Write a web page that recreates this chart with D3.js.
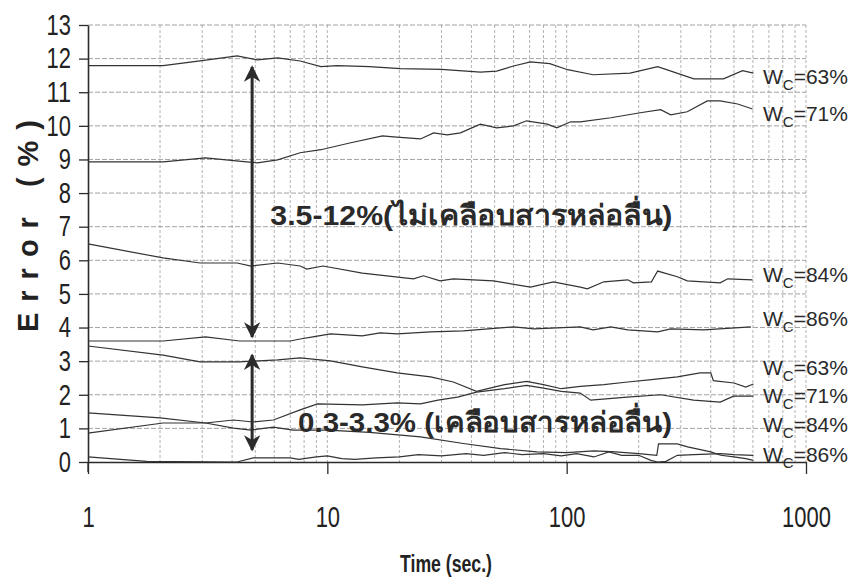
<!DOCTYPE html>
<html>
<head>
<meta charset="utf-8">
<script src="https://cdn.jsdelivr.net/npm/d3@7"></script>
<style>
  body { margin: 0; background: #fff; }
  svg { display: block; }
</style>
</head>
<body>
<svg id="chart" width="851" height="585"></svg>
<script>
// uncoated samples (ไม่เคลือบสารหล่อลื่น), [time s, error %]
const wc63Uncoated = [[1,11.79],[2.06,11.79],[2.94,11.93],[4.2,12.08],[5.1,11.96],[6.2,12.02],[7.7,11.93],[9.4,11.76],[11,11.79],[15,11.76],[20.2,11.7],[30,11.68],[43.6,11.6],[51,11.63],[60,11.78],[70.6,11.9],[85,11.85],[101,11.67],[129,11.52],[184,11.57],[240,11.76],[340,11.4],[452,11.4],[543,11.64],[603,11.57]];
const wc71Uncoated = [[1,8.93],[2.06,8.93],[3.1,9.05],[4.6,8.93],[5.1,8.9],[6.2,8.99],[7.7,9.2],[9.4,9.29],[12.4,9.49],[17,9.7],[18.9,9.67],[24.5,9.61],[27.8,9.79],[31.7,9.73],[36,9.79],[43.6,10.05],[51,9.94],[60,10.0],[68,10.15],[83,10.05],[91,9.94],[104,10.12],[114,10.12],[153,10.24],[203,10.39],[247,10.48],[272,10.33],[319,10.42],[387,10.74],[438,10.74],[518,10.65],[598,10.5]];
const wc84Uncoated = [[1,6.49],[2.06,6.07],[2.94,5.92],[4.2,5.92],[4.8,5.83],[6.2,5.92],[7.7,5.83],[8.2,5.74],[9.6,5.83],[14,5.62],[22.9,5.45],[25.2,5.54],[29.6,5.39],[33.6,5.45],[49.4,5.39],[70.6,5.2],[88,5.36],[114,5.2],[122,5.15],[143,5.36],[180,5.42],[190,5.33],[226,5.36],[240,5.68],[290,5.51],[319,5.39],[438,5.33],[471,5.45],[598,5.42]];
const wc86Uncoated = [[1,3.6],[2.06,3.6],[3.1,3.72],[4.3,3.6],[7,3.6],[7.7,3.66],[8.7,3.72],[10.3,3.81],[14,3.75],[16.6,3.84],[19.6,3.81],[27,3.87],[37,3.9],[60,4.02],[73,3.96],[114,4.02],[129,3.93],[153,4.02],[180,3.93],[240,3.87],[272,3.96],[374,3.93],[588,4.02]];

// coated samples (เคลือบสารหล่อลื่น)
const wc63Coated = [[1,3.45],[2.06,3.18],[2.94,2.98],[4.3,2.98],[6.2,3.04],[7.7,3.1],[10.3,3.01],[14,2.83],[19.6,2.65],[27,2.53],[33.6,2.38],[42,2.1],[55,2.3],[68,2.4],[80,2.3],[95,2.18],[114,2.25],[143,2.3],[180,2.38],[226,2.45],[290,2.53],[361,2.65],[400,2.65],[410,2.42],[500,2.35],[560,2.23],[603,2.32]];
const wc71Coated = [[1,0.86],[2.06,1.16],[3.1,1.16],[4.05,1.25],[4.9,1.19],[5.95,1.25],[7.7,1.55],[9.1,1.73],[14,1.7],[19.6,1.76],[24.5,1.73],[29,1.84],[35,1.93],[42,2.08],[55,2.18],[68,2.28],[80,2.2],[95,2.1],[114,2.05],[126,1.84],[179,1.93],[247,2.0],[339,1.84],[438,1.78],[498,1.96],[603,1.96]];
const wc84Coated = [[1,1.46],[2.0,1.31],[3.1,1.16],[4.05,1.01],[4.8,0.95],[5.95,1.04],[7.2,0.95],[10,0.95],[15,0.88],[24.5,0.75],[37,0.55],[53,0.4],[75,0.3],[100,0.28],[130,0.33],[160,0.3],[200,0.25],[238,0.2],[242,0.54],[290,0.54],[320,0.45],[400,0.3],[440,0.2],[500,0.15],[560,0.1],[603,0.05]];
const wc86Coated = [[1,0.15],[1.76,0.02],[4.2,0.0],[4.9,0.12],[7,0.12],[7.6,0.08],[9,0.15],[10,0.18],[11.5,0.1],[13,0.08],[16,0.12],[20,0.15],[24,0.22],[30,0.18],[38,0.25],[45,0.2],[55,0.28],[65,0.22],[80,0.25],[95,0.18],[110,0.25],[130,0.15],[150,0.3],[170,0.2],[200,0.2],[225,0.05],[240,0.0],[260,0.02],[290,0.2],[340,0.22],[440,0.25],[500,0.22],[603,0.2]];

const seriesList = [wc63Uncoated, wc71Uncoated, wc84Uncoated, wc86Uncoated, wc63Coated, wc71Coated, wc84Coated, wc86Coated];
const seriesNames = ["63%", "71%", "84%", "86%", "63%", "71%", "84%", "86%"];
const labelValues = [11.45, 10.35, 5.55, 4.25, 2.8, 1.95, 1.1, 0.2];

const xTicks = [1, 10, 100, 1000];
const yTicks = d3.range(0, 14);
const rangeArrows = [[4.85, 11.75, 3.72], [4.85, 3.18, 0.36]];
const rangeTexts = [[5.78, 7.26, "3.5-12%(ไม่เคลือบสารหล่อลื่น)"], [7.55, 1.1, "0.3-3.3% (เคลือบสารหล่อลื่น)"]];

const sans = "'Liberation Sans', Arial, sans-serif";
const ink = "#2b2b2b";

const svg = d3.select("#chart");

const xScale = d3.scaleLog().domain([1, 1000]).range([88, 806]);
const yScale = d3.scaleLinear().domain([0, 13]).range([462, 25]);

// grid
const minorTimes = [];
[1, 10, 100].forEach((dec) => {
  for (let k = 2; k <= 10; k++) minorTimes.push(dec * k);
});

svg.append("g")
  .selectAll("line")
  .data(minorTimes)
  .enter()
  .append("line")
  .attr("x1", (d) => xScale(d))
  .attr("x2", (d) => xScale(d))
  .attr("y1", yScale(13))
  .attr("y2", yScale(0))
  .attr("stroke", "#a0a0a0")
  .attr("stroke-width", 0.8)
  .attr("stroke-dasharray", "3,2");

svg.append("g")
  .selectAll("line")
  .data(yTicks.filter((d) => d > 0))
  .enter()
  .append("line")
  .attr("x1", xScale(1))
  .attr("x2", xScale(1000))
  .attr("y1", (d) => yScale(d))
  .attr("y2", (d) => yScale(d))
  .attr("stroke", "#8c8c8c")
  .attr("stroke-width", 0.8)
  .attr("stroke-dasharray", "5,2");

// axes
const xAxis = d3.axisBottom(xScale).tickValues(xTicks).tickFormat(d3.format("d")).tickSize(12).tickSizeOuter(0).tickPadding(32);
const yAxis = d3.axisLeft(yScale).tickValues(yTicks).tickSize(9).tickSizeOuter(0).tickPadding(8);

const gx = svg.append("g").attr("transform", `translate(0, ${yScale(0)})`).call(xAxis);
const gy = svg.append("g").attr("transform", `translate(${xScale(1)}, 0)`).call(yAxis);

[gx, gy].forEach((g) => {
  g.select(".domain").attr("stroke", ink).attr("stroke-width", 1.6);
  g.selectAll(".tick line").attr("stroke", ink).attr("stroke-width", 1.3);
  g.selectAll(".tick text")
    .attr("fill", "#222")
    .style("font-family", sans)
    .attr("lengthAdjust", "spacingAndGlyphs")
    .attr("textLength", (d) => String(d).length * 12.2);
});
gy.selectAll(".tick text").style("font-size", "29px");
gx.selectAll(".tick text").style("font-size", "30px");
gy.append("line").attr("x1", 0).attr("x2", 0).attr("y1", yScale(0)).attr("y2", yScale(0) + 10).attr("stroke", ink).attr("stroke-width", 1.3);

// series
const line = d3.line().x((d) => xScale(d[0])).y((d) => yScale(d[1]));

svg.append("g")
  .selectAll("path")
  .data(seriesList)
  .enter()
  .append("path")
  .attr("d", line)
  .attr("fill", "none")
  .attr("stroke", "#333")
  .attr("stroke-width", 1.2);

// W_C labels
const labels = svg.append("g")
  .selectAll("text")
  .data(seriesNames)
  .enter()
  .append("text")
  .attr("x", 763)
  .attr("y", (d, i) => yScale(labelValues[i]) + 7)
  .style("font-family", sans)
  .style("font-size", "21px")
  .attr("fill", "#2a2a2a");
labels.append("tspan").text("W");
labels.append("tspan").attr("dy", 6).style("font-size", "15px").text("C");
labels.append("tspan").attr("dy", -6).text((d) => "=" + d);

// range arrows
const defs = svg.append("defs");
["start", "end"].forEach((id) => {
  defs.append("marker")
    .attr("id", "head-" + id)
    .attr("viewBox", "0 0 10 10")
    .attr("refX", id === "end" ? 9 : 1)
    .attr("refY", 5)
    .attr("markerWidth", 5.5)
    .attr("markerHeight", 5.5)
    .attr("markerUnits", "strokeWidth")
    .attr("orient", "auto")
    .append("path")
    .attr("d", id === "end" ? "M0,0 L10,5 L0,10 L3,5 Z" : "M10,0 L0,5 L10,10 L7,5 Z")
    .attr("fill", ink);
});

svg.append("g")
  .selectAll("line")
  .data(rangeArrows)
  .enter()
  .append("line")
  .attr("x1", (d) => xScale(d[0]))
  .attr("x2", (d) => xScale(d[0]))
  .attr("y1", (d) => yScale(d[1]))
  .attr("y2", (d) => yScale(d[2]))
  .attr("stroke", ink)
  .attr("stroke-width", 3)
  .attr("marker-start", "url(#head-start)")
  .attr("marker-end", "url(#head-end)");

svg.append("g")
  .selectAll("text")
  .data(rangeTexts)
  .enter()
  .append("text")
  .attr("x", (d) => xScale(d[0]))
  .attr("y", (d) => yScale(d[1]))
  .attr("dominant-baseline", "middle")
  .style("font-family", sans)
  .style("font-size", "28px")
  .style("font-weight", "bold")
  .attr("lengthAdjust", "spacingAndGlyphs")
  .attr("textLength", (d, i) => (i === 0 ? 402 : 374))
  .attr("fill", "#2a2a2a")
  .text((d) => d[2]);

// axis titles
svg.append("text")
  .attr("x", 446)
  .attr("y", 566)
  .attr("text-anchor", "middle")
  .attr("dominant-baseline", "middle")
  .style("font-family", sans)
  .style("font-size", "23px")
  .style("font-weight", "bold")
  .attr("lengthAdjust", "spacingAndGlyphs")
  .attr("textLength", 92)
  .attr("fill", "#222")
  .text("Time (sec.)");

svg.append("text")
  .attr("transform", "translate(30, 226) rotate(-90)")
  .attr("text-anchor", "middle")
  .attr("dominant-baseline", "middle")
  .style("font-family", sans)
  .style("font-size", "29px")
  .style("font-weight", "bold")
  .attr("lengthAdjust", "spacing")
  .attr("textLength", 212)
  .attr("fill", "#222")
  .text("Error (%)");
</script>
</body>
</html>
